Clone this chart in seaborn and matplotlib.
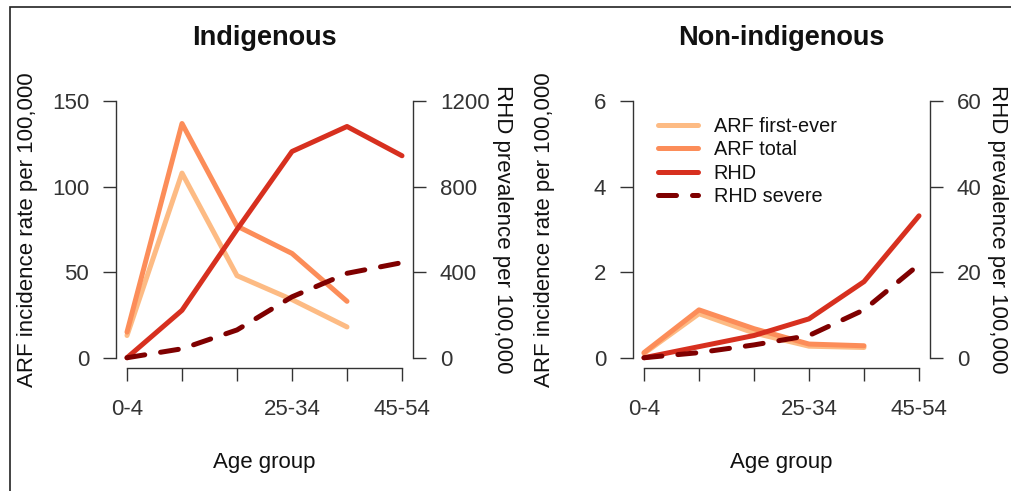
import numpy as np
import pandas as pd
import seaborn as sns
from matplotlib import pyplot as plt
from matplotlib.patches import Rectangle

# age groups on the x axis (R dropped the labels that did not fit)
age_groups = ['0-4', '5-14', '15-24', '25-34', '35-44', '45-54']
shown_labels = ['0-4', '', '', '25-34', '', '45-54']

# Indigenous
ind_arf_first = [13, 108, 48, 34, 18]
ind_arf_total = [15, 137, 77, 61, 33]
ind_rhd = [0, 222, 600, 965, 1082, 945]
ind_rhd_severe = [0, 42, 130, 285, 395, 445]

# Non-indigenous
non_arf_first = [0.10, 1.03, 0.58, 0.27, 0.24]
non_arf_total = [0.12, 1.12, 0.68, 0.32, 0.28]
non_rhd = [0, 2.6, 5.2, 9.1, 17.8, 33.2]
non_rhd_severe = [0, 1.2, 3.0, 5.2, 11.2, 21.8]

panels = [
    ('Indigenous', ind_arf_first, ind_arf_total, ind_rhd, ind_rhd_severe, [0, 50, 100, 150], [0, 400, 800, 1200]),
    ('Non-indigenous', non_arf_first, non_arf_total, non_rhd, non_rhd_severe, [0, 2, 4, 6], [0, 20, 40, 60]),
]

col_first = '#FDBB84'
col_total = '#FC8D59'
col_rhd = '#D7301F'
col_severe = '#7F0000'

sns.set_style('ticks')
plt.rcParams['font.family'] = ['Liberation Sans', 'DejaVu Sans']
plt.rcParams['axes.edgecolor'] = '#333333'
plt.rcParams['xtick.color'] = '#333333'
plt.rcParams['ytick.color'] = '#333333'
plt.rcParams['text.color'] = '#111111'
plt.rcParams['axes.labelcolor'] = '#111111'

fig = plt.figure(figsize=(10.11, 4.91), dpi=100)

x = np.arange(len(age_groups))
lw = 3.6
fs = 16
line_kw = dict(linewidth=lw, solid_capstyle='round', solid_joinstyle='round')
dash_kw = dict(linewidth=lw, dashes=(3.6, 3.2), dash_capstyle='round')

lefts = [116 / 1011, 633 / 1011]
right_label_x = [1.30, 1.226]
for i, (title, first, total, rhd, severe, lticks, rticks) in enumerate(panels):
    ax = fig.add_axes([lefts[i], 123 / 491, 297 / 1011, 277 / 491])
    ax2 = ax.twinx()

    sns.lineplot(x=x[:len(first)], y=first, ax=ax, color=col_first, label='ARF first-ever', **line_kw)
    sns.lineplot(x=x[:len(total)], y=total, ax=ax, color=col_total, label='ARF total', **line_kw)
    sns.lineplot(x=x, y=rhd, ax=ax2, color=col_rhd, label='RHD', **line_kw)
    sns.lineplot(x=x, y=severe, ax=ax2, color=col_severe, label='RHD severe', **dash_kw)

    lmax = lticks[-1]
    rmax = rticks[-1]
    ax.set_xlim(-0.2, 5.2)
    ax.set_ylim(-0.04 * lmax, 1.04 * lmax)
    ax2.set_ylim(-0.04 * rmax, 1.04 * rmax)

    ax.set_xticks(x)
    ax.set_xticklabels(shown_labels)
    ax.set_yticks(lticks)
    ax2.set_yticks(rticks)

    for a in (ax, ax2):
        for s in a.spines.values():
            s.set_visible(False)
            s.set_linewidth(1.0)
    ax.spines['left'].set_visible(True)
    ax.spines['left'].set_bounds(0, lmax)
    ax.spines['bottom'].set_visible(True)
    ax.spines['bottom'].set_bounds(0, 5)
    ax2.spines['right'].set_visible(True)
    ax2.spines['right'].set_bounds(0, rmax)

    ax.tick_params(axis='both', length=9.4, width=1.0, labelsize=fs, pad=10)
    ax.tick_params(axis='x', pad=13)
    ax2.tick_params(axis='y', length=9.4, width=1.0, labelsize=fs, pad=10)

    ax.set_xlabel('Age group', fontsize=fs, labelpad=23)
    ax.set_ylabel('ARF incidence rate per 100,000', fontsize=fs)
    ax.yaxis.set_label_coords(-0.262, 0.5)
    ax2.set_ylabel('RHD prevalence per 100,000', fontsize=fs, rotation=270, va='center')
    ax2.yaxis.set_label_coords(right_label_x[i], 0.5)

    fig.text(lefts[i] + 148 / 1011, 1 - 38 / 491, title, fontsize=19.5, fontweight='bold',
             ha='center', va='center')

    ax.get_legend().remove()
    ax2.get_legend().remove()
    if i == 1:
        h1, l1 = ax.get_legend_handles_labels()
        h2, l2 = ax2.get_legend_handles_labels()
        ax2.legend(h1 + h2, l1 + l2, loc='upper left', bbox_to_anchor=(0.058, 0.935),
                   frameon=False, fontsize=14.3, handlelength=2.0, handletextpad=0.8,
                   labelspacing=0.22, borderaxespad=0)

# outer frame, only top and left edges fall inside the picture
fig.patches.append(Rectangle((10 / 1011, -0.2), 1.2, 1.2 - 7 / 491, transform=fig.transFigure,
                             fill=False, edgecolor='#222222', linewidth=1.2))

plt.savefig('out.png', dpi=100)
